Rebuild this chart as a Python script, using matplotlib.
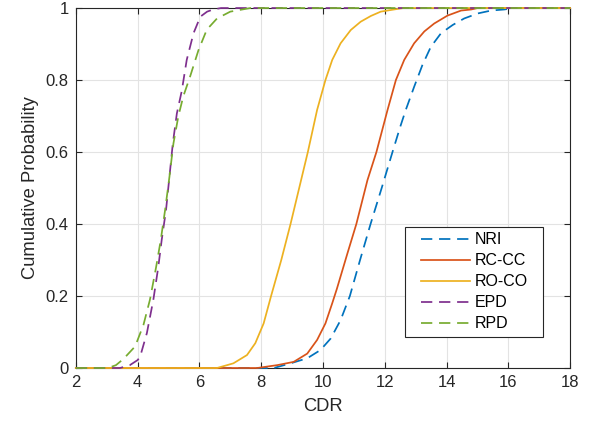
import matplotlib
matplotlib.use("Agg")
import matplotlib.pyplot as plt

# values (CDR, cumulative probability)
nri_x = [2, 8.41, 8.95, 9.49, 9.92, 10.25, 10.57, 10.87, 11.2, 11.54, 11.9, 12.25,
         12.5, 12.68, 12.95, 13.22, 13.49, 13.82, 14.2, 14.57, 15.01, 15.44, 15.87,
         16.2, 18]
nri_y = [0, 0, 0.013, 0.027, 0.05, 0.082, 0.133, 0.2, 0.3, 0.4, 0.5, 0.6,
         0.67, 0.717, 0.781, 0.842, 0.892, 0.93, 0.953, 0.971, 0.985, 0.993, 0.996,
         1, 1]

rccc_x = [2, 7.87, 8.52, 9.05, 9.49, 9.81, 10.08, 10.3, 10.45, 10.79, 11.08, 11.44,
          11.73, 12.09, 12.36, 12.63, 12.95, 13.28, 13.6, 14.03, 14.47, 14.8, 15.0, 18]
rccc_y = [0, 0, 0.008, 0.017, 0.04, 0.078, 0.124, 0.18, 0.22, 0.318, 0.4, 0.522,
          0.6, 0.717, 0.8, 0.856, 0.902, 0.935, 0.957, 0.979, 0.993, 0.996, 1, 1]

roco_x = [2, 6.57, 7.1, 7.54, 7.81, 8.08, 8.32, 8.65, 8.95, 9.23, 9.51, 9.81,
          10.08, 10.30, 10.57, 10.9, 11.22, 11.55, 11.87, 12.3, 12.6, 18]
roco_y = [0, 0, 0.013, 0.036, 0.069, 0.124, 0.2, 0.3, 0.4, 0.5, 0.6, 0.717,
          0.8, 0.856, 0.902, 0.939, 0.962, 0.978, 0.99, 0.996, 1, 1]

epd_x = [2, 3.43, 3.75, 4.0, 4.08, 4.30, 4.51, 4.67, 4.78, 4.92, 5.03, 5.14,
         5.27, 5.43, 5.59, 5.81, 6.03, 6.25, 6.45, 6.7, 18]
epd_y = [0, 0, 0.008, 0.022, 0.031, 0.097, 0.19, 0.281, 0.356, 0.439, 0.531, 0.624,
         0.707, 0.77, 0.856, 0.93, 0.976, 0.99, 0.996, 1, 1]

rpd_x = [2, 3.04, 3.3, 3.54, 3.92, 4.19, 4.40, 4.60, 4.75, 4.89, 5.03, 5.16,
         5.32, 5.48, 5.70, 5.97, 6.24, 6.57, 7.0, 7.65, 18]
rpd_y = [0, 0, 0.008, 0.025, 0.06, 0.12, 0.19, 0.281, 0.356, 0.439, 0.531, 0.624,
         0.70, 0.755, 0.81, 0.883, 0.94, 0.971, 0.99, 1, 1]

plt.rcParams["font.family"] = ["Liberation Sans", "DejaVu Sans"]

fig = plt.figure(figsize=(5.97, 4.23), dpi=100)
ax = fig.add_axes([0.127, 0.130, 0.828, 0.851])

dash = (6.5, 3.9)
lw = 1.25
ax.plot(nri_x, nri_y, color="#0072BD", lw=lw, dashes=dash, label="NRI", clip_on=False, zorder=3)
ax.plot(rccc_x, rccc_y, color="#D95319", lw=lw, label="RC-CC", clip_on=False, zorder=3)
ax.plot(roco_x, roco_y, color="#EDB120", lw=lw, label="RO-CO", clip_on=False, zorder=3)
ax.plot(epd_x, epd_y, color="#7E2F8E", lw=lw, dashes=dash, label="EPD", clip_on=False, zorder=3)
ax.plot(rpd_x, rpd_y, color="#77AC30", lw=lw, dashes=dash, label="RPD", clip_on=False, zorder=3)

ax.set_xlim(2, 18)
ax.set_ylim(0, 1)
ax.set_xticks(range(2, 19, 2))
ax.set_yticks([0, 0.2, 0.4, 0.6, 0.8, 1])
ax.set_yticklabels(["0", "0.2", "0.4", "0.6", "0.8", "1"])

ax.grid(True, color="#e3e3e3", lw=0.8)
ax.set_axisbelow(True)
ax.tick_params(direction="in", top=True, right=True, length=4, width=0.8, pad=5,
               labelsize=12, colors="#262626", labelcolor="#262626")
for s in ax.spines.values():
    s.set_color("#262626")
    s.set_linewidth(0.8)

ax.set_xlabel("CDR", fontsize=13.2, color="#262626", labelpad=6)
ax.set_ylabel("Cumulative Probability", fontsize=13.2, color="#262626", labelpad=5)

leg = ax.legend(loc="lower right", bbox_to_anchor=(0.926, 0.086), borderaxespad=0,
                fontsize=11.5, fancybox=False, framealpha=1, edgecolor="#262626",
                handlelength=3.1, handletextpad=0.3, borderpad=0.35, labelspacing=0.38)
# wider padding left/right than top/bottom, like the MATLAB legend box
leg.get_frame().set_boxstyle("square", pad=0.6)
leg.get_frame().set_mutation_aspect(0.001)
leg.get_frame().set_linewidth(0.8)

fig.savefig("out.png", dpi=100)
